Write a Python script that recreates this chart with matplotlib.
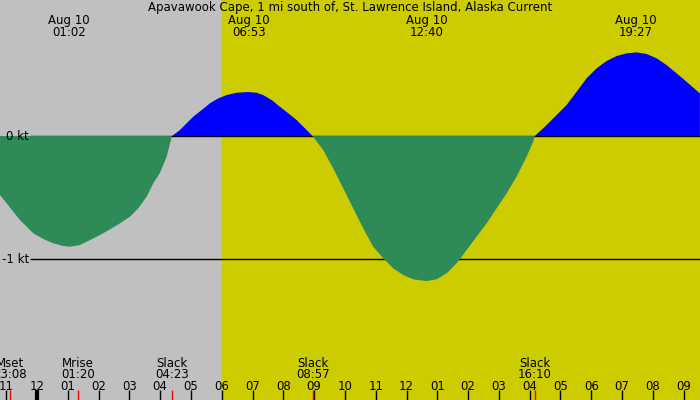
import matplotlib
matplotlib.use("Agg")
import matplotlib.pyplot as plt
import matplotlib.transforms as mtransforms

plt.rcParams["font.family"] = "DejaVu Sans"

title = "Apavawook Cape, 1 mi south of, St. Lawrence Island, Alaska Current"

# current speed (kt), hours from midnight Aug 10
hours = [-1.201, -0.984, -0.769, -0.552, -0.334, -0.120, 0.205, 0.529, 0.854,
         1.071, 1.396, 1.721, 2.045, 2.370, 2.695, 3.019, 3.289, 3.562, 3.776,
         3.994, 4.211, 4.383,
         4.643, 5.075, 5.347, 5.617, 5.886, 6.159, 6.484, 6.860, 7.133, 7.347,
         7.620, 7.890, 8.159, 8.432, 8.701, 8.950,
         9.295, 9.620, 9.945, 10.269, 10.594, 10.919, 11.244, 11.568, 11.893,
         12.218, 12.653, 12.977, 13.302, 13.627, 13.951, 14.276, 14.601,
         14.925, 15.250, 15.575, 15.899, 16.114, 16.167,
         16.549, 16.873, 17.198, 17.523, 17.847, 18.172, 18.497, 18.821,
         19.146, 19.471, 19.795, 20.120, 20.445, 20.769, 21.094, 21.526]
speed = [-0.48, -0.547, -0.615, -0.683, -0.737, -0.791, -0.837, -0.872, -0.894,
         -0.90, -0.886, -0.846, -0.805, -0.759, -0.71, -0.656, -0.588, -0.493,
         -0.385, -0.30, -0.168, 0.0,
         0.049, 0.157, 0.211, 0.266, 0.306, 0.333, 0.352, 0.358, 0.352, 0.333,
         0.293, 0.238, 0.185, 0.13, 0.063, 0.0,
         -0.114, -0.263, -0.425, -0.588, -0.75, -0.90, -0.994, -1.076, -1.13,
         -1.165, -1.179, -1.165, -1.116, -1.035, -0.927, -0.818, -0.71,
         -0.588, -0.466, -0.33, -0.168, -0.046, 0.0,
         0.089, 0.171, 0.252, 0.36, 0.469, 0.55, 0.61, 0.65,
         0.672, 0.68, 0.667, 0.632, 0.577, 0.51, 0.441, 0.347]

# max/min current labels at top
peak_hours = [1.033, 6.883, 12.667, 19.45]
peak_labels = ["01:02", "06:53", "12:40", "19:27"]

# moon / slack events at bottom
event_hours = [-0.867, 1.333, 4.383, 8.95, 16.167]
event_names = ["Mset", "Mrise", "Slack", "Slack", "Slack"]
event_times = ["23:08", "01:20", "04:23", "08:57", "16:10"]

tick_hours = list(range(-1, 22))
sunrise = 6.0

x0, x1 = -1.2, 21.53
y0, y1 = -2.146, 1.106
fs = 8.5

fig = plt.figure(figsize=(7, 4), dpi=100)
ax = fig.add_axes([0, 0, 1, 1])
ax.set_xlim(x0, x1)
ax.set_ylim(y0, y1)
ax.axis("off")

ax.axvspan(x0, sunrise, color="#c0c0c0", zorder=0)
ax.axvspan(sunrise, x1, color="#cccc00", zorder=0)

# level lines
xstart = x0 + 30 / 700 * (x1 - x0)
ax.hlines([0, -1], xstart, x1, color="black", lw=1, zorder=1)
ax.text(x0 + 6 / 700 * (x1 - x0), 0, "0 kt", fontsize=fs, va="center", ha="left", zorder=3)
ax.text(x0 + 2 / 700 * (x1 - x0), -1, "-1 kt", fontsize=fs, va="center", ha="left", zorder=3)

ax.fill_between(hours, speed, 0, where=[s >= 0 for s in speed], interpolate=True,
                color="#0000ff", lw=0, zorder=2)
ax.fill_between(hours, speed, 0, where=[s <= 0 for s in speed], interpolate=True,
                color="#2e8b57", lw=0, zorder=2)

trans = mtransforms.blended_transform_factory(ax.transData, ax.transAxes)

# hour ticks
for h in tick_hours:
    lw = 3 if h == 0 else 1
    ax.plot([h, h], [0, 0.025], color="black", lw=lw, transform=trans, zorder=4,
            solid_capstyle="butt")
    lab = "%02d" % ((h - 1) % 12 + 1)
    ax.text(h, 0.024, lab, fontsize=fs, ha="center", va="baseline", transform=trans, zorder=4)

for h, name, t in zip(event_hours, event_names, event_times):
    ax.plot([h, h], [0, 0.025], color="red", lw=1, transform=trans, zorder=5,
            solid_capstyle="butt")
    ax.text(h, 1 - 367 / 400, name, fontsize=fs, ha="center", va="baseline", transform=trans)
    ax.text(h, 1 - 378.5 / 400, t, fontsize=fs, ha="center", va="baseline", transform=trans)

for h, t in zip(peak_hours, peak_labels):
    ax.text(h, 1 - 24 / 400, "Aug 10", fontsize=fs, ha="center", va="baseline", transform=trans)
    ax.text(h, 1 - 36 / 400, t, fontsize=fs, ha="center", va="baseline", transform=trans)

ax.text(0.5, 1 - 11 / 400, title, fontsize=fs, ha="center", va="baseline",
        transform=ax.transAxes)

fig.savefig("out.png", dpi=100)
